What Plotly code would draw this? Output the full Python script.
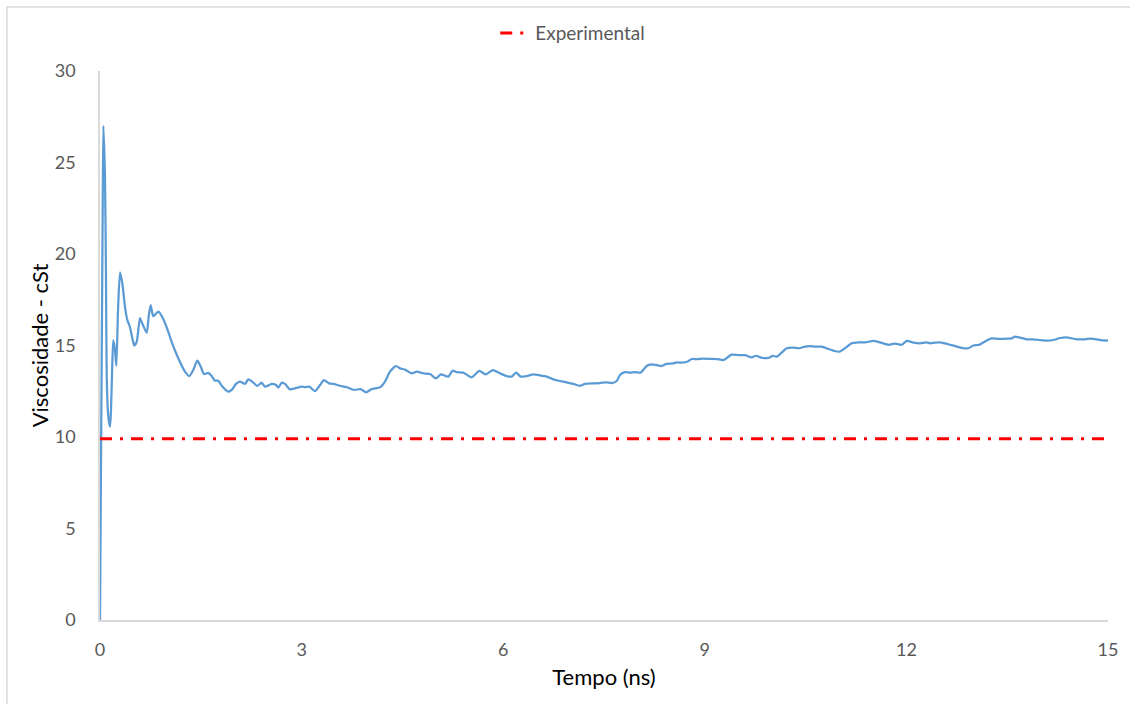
import plotly.graph_objects as go

# Simulated kinematic viscosity over time (ns -> cSt)
tempo_ns = [
    0.0, 0.015, 0.030, 0.040, 0.050, 0.074, 0.089, 0.100, 0.124, 0.149,
    0.164, 0.183, 0.198, 0.223, 0.243, 0.268, 0.298, 0.332, 0.372, 0.406,
    0.446, 0.487, 0.510, 0.546, 0.595, 0.629, 0.695, 0.725, 0.754, 0.793,
    0.868, 0.942, 1.016, 1.091, 1.190, 1.265, 1.329, 1.388, 1.448, 1.498,
    1.548, 1.612, 1.662, 1.711, 1.760, 1.811, 1.909, 1.960, 2.024, 2.083,
    2.158, 2.207, 2.281, 2.341, 2.406, 2.455, 2.555, 2.619, 2.653, 2.704,
    2.753, 2.827, 2.902, 3.001, 3.051, 3.115, 3.199, 3.274, 3.333, 3.408,
    3.472, 3.571, 3.671, 3.780, 3.879, 3.958, 4.043, 4.167, 4.241, 4.315,
    4.405, 4.464, 4.539, 4.638, 4.713, 4.811, 4.911, 5.000, 5.070, 5.183,
    5.249, 5.308, 5.406, 5.531, 5.644, 5.744, 5.844, 5.952, 6.052, 6.126,
    6.190, 6.260, 6.350, 6.448, 6.548, 6.647, 6.746, 6.845, 6.945, 7.043,
    7.143, 7.217, 7.341, 7.440, 7.540, 7.615, 7.689, 7.738, 7.813, 7.887,
    7.961, 8.046, 8.135, 8.210, 8.284, 8.359, 8.433, 8.531, 8.582, 8.656,
    8.754, 8.804, 8.879, 8.978, 9.077, 9.177, 9.286, 9.397, 9.499, 9.598,
    9.698, 9.762, 9.847, 9.945, 10.010, 10.070, 10.144, 10.219, 10.317, 10.406,
    10.491, 10.565, 10.640, 10.740, 10.838, 10.913, 11.002, 11.086, 11.186, 11.284,
    11.384, 11.508, 11.607, 11.731, 11.830, 11.930, 12.004, 12.103, 12.202, 12.302,
    12.351, 12.426, 12.525, 12.624, 12.749, 12.847, 12.921, 12.996, 13.085, 13.195,
    13.269, 13.368, 13.467, 13.567, 13.616, 13.690, 13.790, 13.889, 13.988, 14.088,
    14.187, 14.286, 14.385, 14.460, 14.534, 14.633, 14.732, 14.831, 14.930, 15.000,
]
viscosidade_cst = [
    0.0, 8.7, 16.9, 22.4, 27.0, 24.2, 18.8, 13.3, 11.1, 10.56,
    11.5, 14.0, 15.3, 14.75, 13.9, 16.9, 19.0, 18.4, 17.1, 16.4,
    16.0, 15.3, 15.0, 15.2, 16.5, 16.2, 15.7, 16.6, 17.2, 16.6,
    16.85, 16.45, 15.75, 14.95, 14.1, 13.57, 13.33, 13.66, 14.17, 13.85,
    13.44, 13.5, 13.33, 13.08, 13.08, 12.8, 12.48, 12.57, 12.9, 13.03,
    12.9, 13.15, 12.97, 12.79, 12.97, 12.75, 12.9, 12.84, 12.7, 12.97,
    12.9, 12.6, 12.66, 12.75, 12.72, 12.75, 12.51, 12.84, 13.11, 12.93,
    12.9, 12.8, 12.72, 12.57, 12.62, 12.44, 12.62, 12.72, 13.03, 13.57,
    13.88, 13.75, 13.68, 13.48, 13.57, 13.48, 13.44, 13.2, 13.42, 13.3,
    13.63, 13.54, 13.52, 13.26, 13.61, 13.42, 13.66, 13.48, 13.33, 13.3,
    13.52, 13.3, 13.33, 13.42, 13.37, 13.3, 13.15, 13.06, 12.99, 12.9,
    12.8, 12.9, 12.93, 12.95, 12.99, 12.95, 13.06, 13.39, 13.54, 13.52,
    13.55, 13.52, 13.88, 13.97, 13.93, 13.88, 14.0, 14.02, 14.08, 14.06,
    14.14, 14.26, 14.25, 14.28, 14.27, 14.26, 14.21, 14.5, 14.48, 14.47,
    14.35, 14.44, 14.33, 14.32, 14.43, 14.39, 14.61, 14.85, 14.88, 14.85,
    14.94, 14.97, 14.94, 14.94, 14.81, 14.72, 14.66, 14.85, 15.12, 15.17,
    15.17, 15.25, 15.17, 15.04, 15.1, 15.04, 15.25, 15.16, 15.12, 15.17,
    15.12, 15.16, 15.16, 15.07, 14.94, 14.85, 14.85, 15.0, 15.04, 15.27,
    15.39, 15.36, 15.37, 15.39, 15.48, 15.43, 15.34, 15.34, 15.3, 15.27,
    15.3, 15.41, 15.45, 15.39, 15.34, 15.34, 15.37, 15.34, 15.28, 15.27,
]

# Experimental reference viscosity
experimental_x = [0, 15]
experimental_y = [9.9, 9.9]

x_ticks = [0, 3, 6, 9, 12, 15]
y_ticks = [0, 5, 10, 15, 20, 25, 30]

FONT = "Lato, 'Open Sans', sans-serif"
GRAY_TXT = "#595959"
AXIS_GRAY = "#D9D9D9"

fig = go.Figure()

fig.add_trace(go.Scatter(
    x=tempo_ns, y=viscosidade_cst,
    mode="lines",
    line=dict(color="#5B9BD5", width=2.25, shape="spline", smoothing=0.6),
    showlegend=False,
    name="Simulação",
))

fig.add_trace(go.Scatter(
    x=experimental_x, y=experimental_y,
    mode="lines",
    line=dict(color="#FF0000", width=3, dash="12px,8px,3px,8px"),
    name="Experimental",
))

fig.update_layout(
    width=1130, height=704,
    margin=dict(l=100, r=22, t=71, b=84),
    paper_bgcolor="white",
    plot_bgcolor="white",
    font=dict(family=FONT, color=GRAY_TXT, size=18),
    legend=dict(
        orientation="h", x=0.469, xanchor="center", y=1.069, yanchor="middle",
        font=dict(family=FONT, size=19, color=GRAY_TXT),
        bgcolor="rgba(0,0,0,0)",
    ),
    xaxis=dict(
        range=[0, 15],
        tickmode="array", tickvals=x_ticks, ticktext=[str(v) for v in x_ticks],
        showgrid=False, zeroline=False,
        showline=True, linecolor=AXIS_GRAY, linewidth=1.5,
        ticks="", ticklabelstandoff=13,
        tickfont=dict(family=FONT, size=18, color=GRAY_TXT),
        title=dict(text="Tempo (ns)", font=dict(family=FONT, size=22, color="#000000"), standoff=10),
    ),
    yaxis=dict(
        range=[0, 30],
        tickmode="array", tickvals=y_ticks, ticktext=[str(v) for v in y_ticks],
        showgrid=False, zeroline=False,
        showline=True, linecolor=AXIS_GRAY, linewidth=1.5,
        ticks="", ticklabelstandoff=19,
        tickfont=dict(family=FONT, size=18, color=GRAY_TXT),
        title=dict(text="Viscosidade - cSt", font=dict(family=FONT, size=22, color="#000000"), standoff=0),
    ),
    shapes=[
        # chart-area frame
        dict(type="rect", xref="paper", yref="paper",
             x0=-0.0923, x1=1.2, y0=-0.3, y1=1.1166,
             line=dict(color=AXIS_GRAY, width=1.5), fillcolor="rgba(0,0,0,0)", layer="below"),
    ],
)

fig.write_html("out.html")
